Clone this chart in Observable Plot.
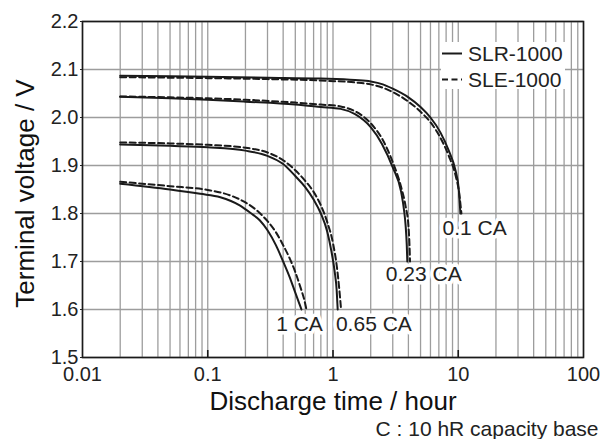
<!DOCTYPE html>
<html><head><meta charset="utf-8">
<script src="https://cdn.jsdelivr.net/npm/d3@7"></script>
<script src="https://cdn.jsdelivr.net/npm/@observablehq/plot@0.6"></script>
<style>
body{margin:0;background:#fff;font-family:"Liberation Sans",Arial,sans-serif;}
#wrap{position:relative;width:614px;height:439px;}
#legend{position:absolute;left:441px;top:42px;width:124px;height:47px;background:#fff;}
#legend svg{overflow:visible;}
</style></head><body>
<div id="wrap"><div id="legend"></div></div>
<script>
// ---- data ----
const xTicks = [0.01, 0.1, 1, 10, 100];
const xTickLabels = ["0.01", "0.1", "1", "10", "100"];
const xDecadeTicks = [0.1, 1, 10];
const yTicks = [1.5, 1.6, 1.7, 1.8, 1.9, 2.0, 2.1, 2.2];
const yTickLabels = ["1.5", "1.6", "1.7", "1.8", "1.9", "2.0", "2.1", "2.2"];
const seriesNames = ["SLR-1000", "SLE-1000"];
const rateNames = ["0.1 CA", "0.23 CA", "0.65 CA", "1 CA"];
const rateLabelT = [13.5, 5.3, 2.12, 0.54];
const rateLabelV = [1.769, 1.673, 1.569, 1.569];
const xTitle = "Discharge time / hour";
const yTitle = "Terminal voltage / V";
const caption = "C : 10 hR capacity base";

// SLR-1000 (solid)
const slr01T = [0.02, 0.05, 0.1, 0.3, 0.8, 1.5, 2.0, 2.5, 3.0, 4.0, 5.0, 6.0, 7.2, 8.4, 9.5, 10.1, 10.4];
const slr01V = [2.087, 2.086, 2.085, 2.083, 2.081, 2.078, 2.075, 2.069, 2.060, 2.042, 2.022, 2.000, 1.969, 1.931, 1.890, 1.850, 1.800];
const slr023T = [0.02, 0.05, 0.1, 0.2, 0.5, 0.8, 1.15, 1.5, 2.0, 2.46, 3.0, 3.5, 3.7, 3.8, 3.88, 3.92];
const slr023V = [2.043, 2.040, 2.037, 2.033, 2.027, 2.022, 2.018, 2.007, 1.980, 1.945, 1.896, 1.845, 1.805, 1.775, 1.735, 1.700];
const slr065T = [0.02, 0.05, 0.1, 0.2, 0.3, 0.4, 0.5, 0.6, 0.7, 0.8, 0.9, 0.97, 1.03, 1.07, 1.09];
const slr065V = [1.944, 1.941, 1.938, 1.931, 1.920, 1.903, 1.878, 1.855, 1.829, 1.800, 1.762, 1.722, 1.680, 1.640, 1.600];
const slr1T = [0.02, 0.05, 0.087, 0.126, 0.18, 0.22, 0.26, 0.3, 0.35, 0.4, 0.45, 0.5, 0.53, 0.56];
const slr1V = [1.862, 1.850, 1.841, 1.834, 1.817, 1.801, 1.786, 1.765, 1.734, 1.700, 1.668, 1.635, 1.617, 1.600];
// SLE-1000 (dashed)
const sle01T = [0.02, 0.05, 0.1, 0.3, 0.8, 1.5, 2.0, 2.5, 3.0, 4.0, 5.0, 6.0, 7.2, 8.4, 9.5, 10.2, 10.6];
const sle01V = [2.084, 2.083, 2.082, 2.080, 2.077, 2.073, 2.069, 2.062, 2.053, 2.033, 2.012, 1.990, 1.958, 1.920, 1.880, 1.840, 1.800];
const sle023T = [0.02, 0.05, 0.1, 0.2, 0.5, 0.8, 1.15, 1.5, 2.0, 2.5, 3.0, 3.5, 3.8, 4.0, 4.08, 4.12];
const sle023V = [2.044, 2.042, 2.040, 2.037, 2.031, 2.027, 2.023, 2.013, 1.988, 1.953, 1.907, 1.855, 1.815, 1.775, 1.735, 1.700];
const sle065T = [0.02, 0.05, 0.1, 0.2, 0.3, 0.4, 0.5, 0.6, 0.7, 0.8, 0.9, 1.0, 1.07, 1.12, 1.16];
const sle065V = [1.948, 1.946, 1.943, 1.937, 1.927, 1.911, 1.890, 1.868, 1.845, 1.817, 1.782, 1.738, 1.692, 1.645, 1.600];
const sle1T = [0.02, 0.05, 0.1, 0.15, 0.2, 0.25, 0.3, 0.35, 0.4, 0.45, 0.5, 0.55, 0.59, 0.614];
const sle1V = [1.866, 1.857, 1.849, 1.838, 1.823, 1.805, 1.784, 1.761, 1.734, 1.707, 1.678, 1.646, 1.620, 1.600];

// ---- build tables ----
const curves = [
  [seriesNames[0], rateNames[0], slr01T, slr01V],
  [seriesNames[0], rateNames[1], slr023T, slr023V],
  [seriesNames[0], rateNames[2], slr065T, slr065V],
  [seriesNames[0], rateNames[3], slr1T, slr1V],
  [seriesNames[1], rateNames[0], sle01T, sle01V],
  [seriesNames[1], rateNames[1], sle023T, sle023V],
  [seriesNames[1], rateNames[2], sle065T, sle065V],
  [seriesNames[1], rateNames[3], sle1T, sle1V]
];
const rows = curves.flatMap(([s, r, T, V]) => T.map((t, i) => ({series: s, rate: r, key: s + "|" + r, t, v: V[i]})));
const solidRows = rows.filter(d => d.series === seriesNames[0]);
const dashedRows = rows.filter(d => d.series === seriesNames[1]);
const gridX = [];
for (let e = -2; e < 2; e++) for (let k = 1; k <= 9; k++) gridX.push(k * Math.pow(10, e));
gridX.push(100);
const labels = rateNames.map((n, i) => ({name: n, t: rateLabelT[i], v: rateLabelV[i]}));
const xLabelOf = d => {
  const i = xTicks.findIndex(t => Math.abs(Math.log10(t) - Math.log10(d)) < 1e-6);
  return i >= 0 ? xTickLabels[i] : "";
};
const yLabelOf = d => {
  const i = yTicks.findIndex(t => Math.abs(t - d) < 1e-6);
  return i >= 0 ? yTickLabels[i] : "";
};

const ink = "#1a1a1a";
const W = 614, H = 439, mL = 82, mR = 31, mT = 21, mB = 82;
const chart = Plot.plot({
  width: W, height: H,
  marginLeft: mL, marginRight: mR, marginTop: mT, marginBottom: mB,
  style: {fontFamily: "'Liberation Sans', Arial, sans-serif", fontSize: "20px", color: "#222", background: "#fff", overflow: "visible"},
  x: {type: "log", domain: [0.01, 100]},
  y: {domain: [1.5, 2.2]},
  marks: [
    Plot.gridX(gridX, {stroke: "#9d9d9d", strokeWidth: 1.3, strokeOpacity: 1}),
    Plot.gridY(yTicks, {stroke: "#9d9d9d", strokeWidth: 1.3, strokeOpacity: 1}),
    Plot.line(solidRows, {x: "t", y: "v", z: "key", stroke: ink, strokeWidth: 2, curve: "monotone-x"}),
    Plot.line(dashedRows, {x: "t", y: "v", z: "key", stroke: ink, strokeWidth: 2, strokeDasharray: "6,3.5", curve: "monotone-x"}),
    Plot.text(labels, {x: "t", y: "v", text: "name", fontSize: 21, fill: "#222", stroke: "white", strokeWidth: 7, lineAnchor: "middle"}),
    Plot.frame({stroke: ink, strokeWidth: 1.6}),
    Plot.ruleX(xDecadeTicks, {x: d => d, stroke: ink, strokeWidth: 1.6, insetTop: (H - mT - mB) - 7}),
    Plot.axisX({ticks: xTicks, tickSize: 0, tickPadding: 9, tickFormat: xLabelOf, label: null, fontSize: 20}),
    Plot.axisY({ticks: yTicks, tickSize: 2, tickPadding: 2, tickFormat: yLabelOf, label: null, fontSize: 20}),
    Plot.text([xTitle], {frameAnchor: "bottom", text: d => d, dy: 52, lineAnchor: "bottom", fontSize: 26, fill: "#111"}),
    Plot.text([yTitle], {frameAnchor: "left", text: d => d, dx: -48.5, dy: 4, rotate: -90, textAnchor: "middle", lineAnchor: "bottom", fontSize: 26, fill: "#111"}),
    Plot.text([caption], {frameAnchor: "bottom-right", text: d => d, dx: 15, dy: 78, textAnchor: "end", lineAnchor: "bottom", fontSize: 21, fill: "#222"})
  ]
});
const wrap = document.getElementById("wrap");
wrap.insertBefore(chart, wrap.firstChild);

// legend
const lg = d3.select("#legend").append("svg").attr("width", 124).attr("height", 47)
  .style("font-family", "'Liberation Sans', Arial, sans-serif");
const dashes = [null, "6,3.5"];
seriesNames.forEach((name, i) => {
  const y = 11.5 + i * 26;
  lg.append("line").attr("x1", 1).attr("x2", 21).attr("y1", y).attr("y2", y)
    .attr("stroke", ink).attr("stroke-width", 2).attr("stroke-dasharray", dashes[i]);
  lg.append("text").attr("x", 27).attr("y", y).attr("dy", "0.36em")
    .attr("font-size", 21).attr("fill", "#222").text(name);
});
</script>
</body></html>
